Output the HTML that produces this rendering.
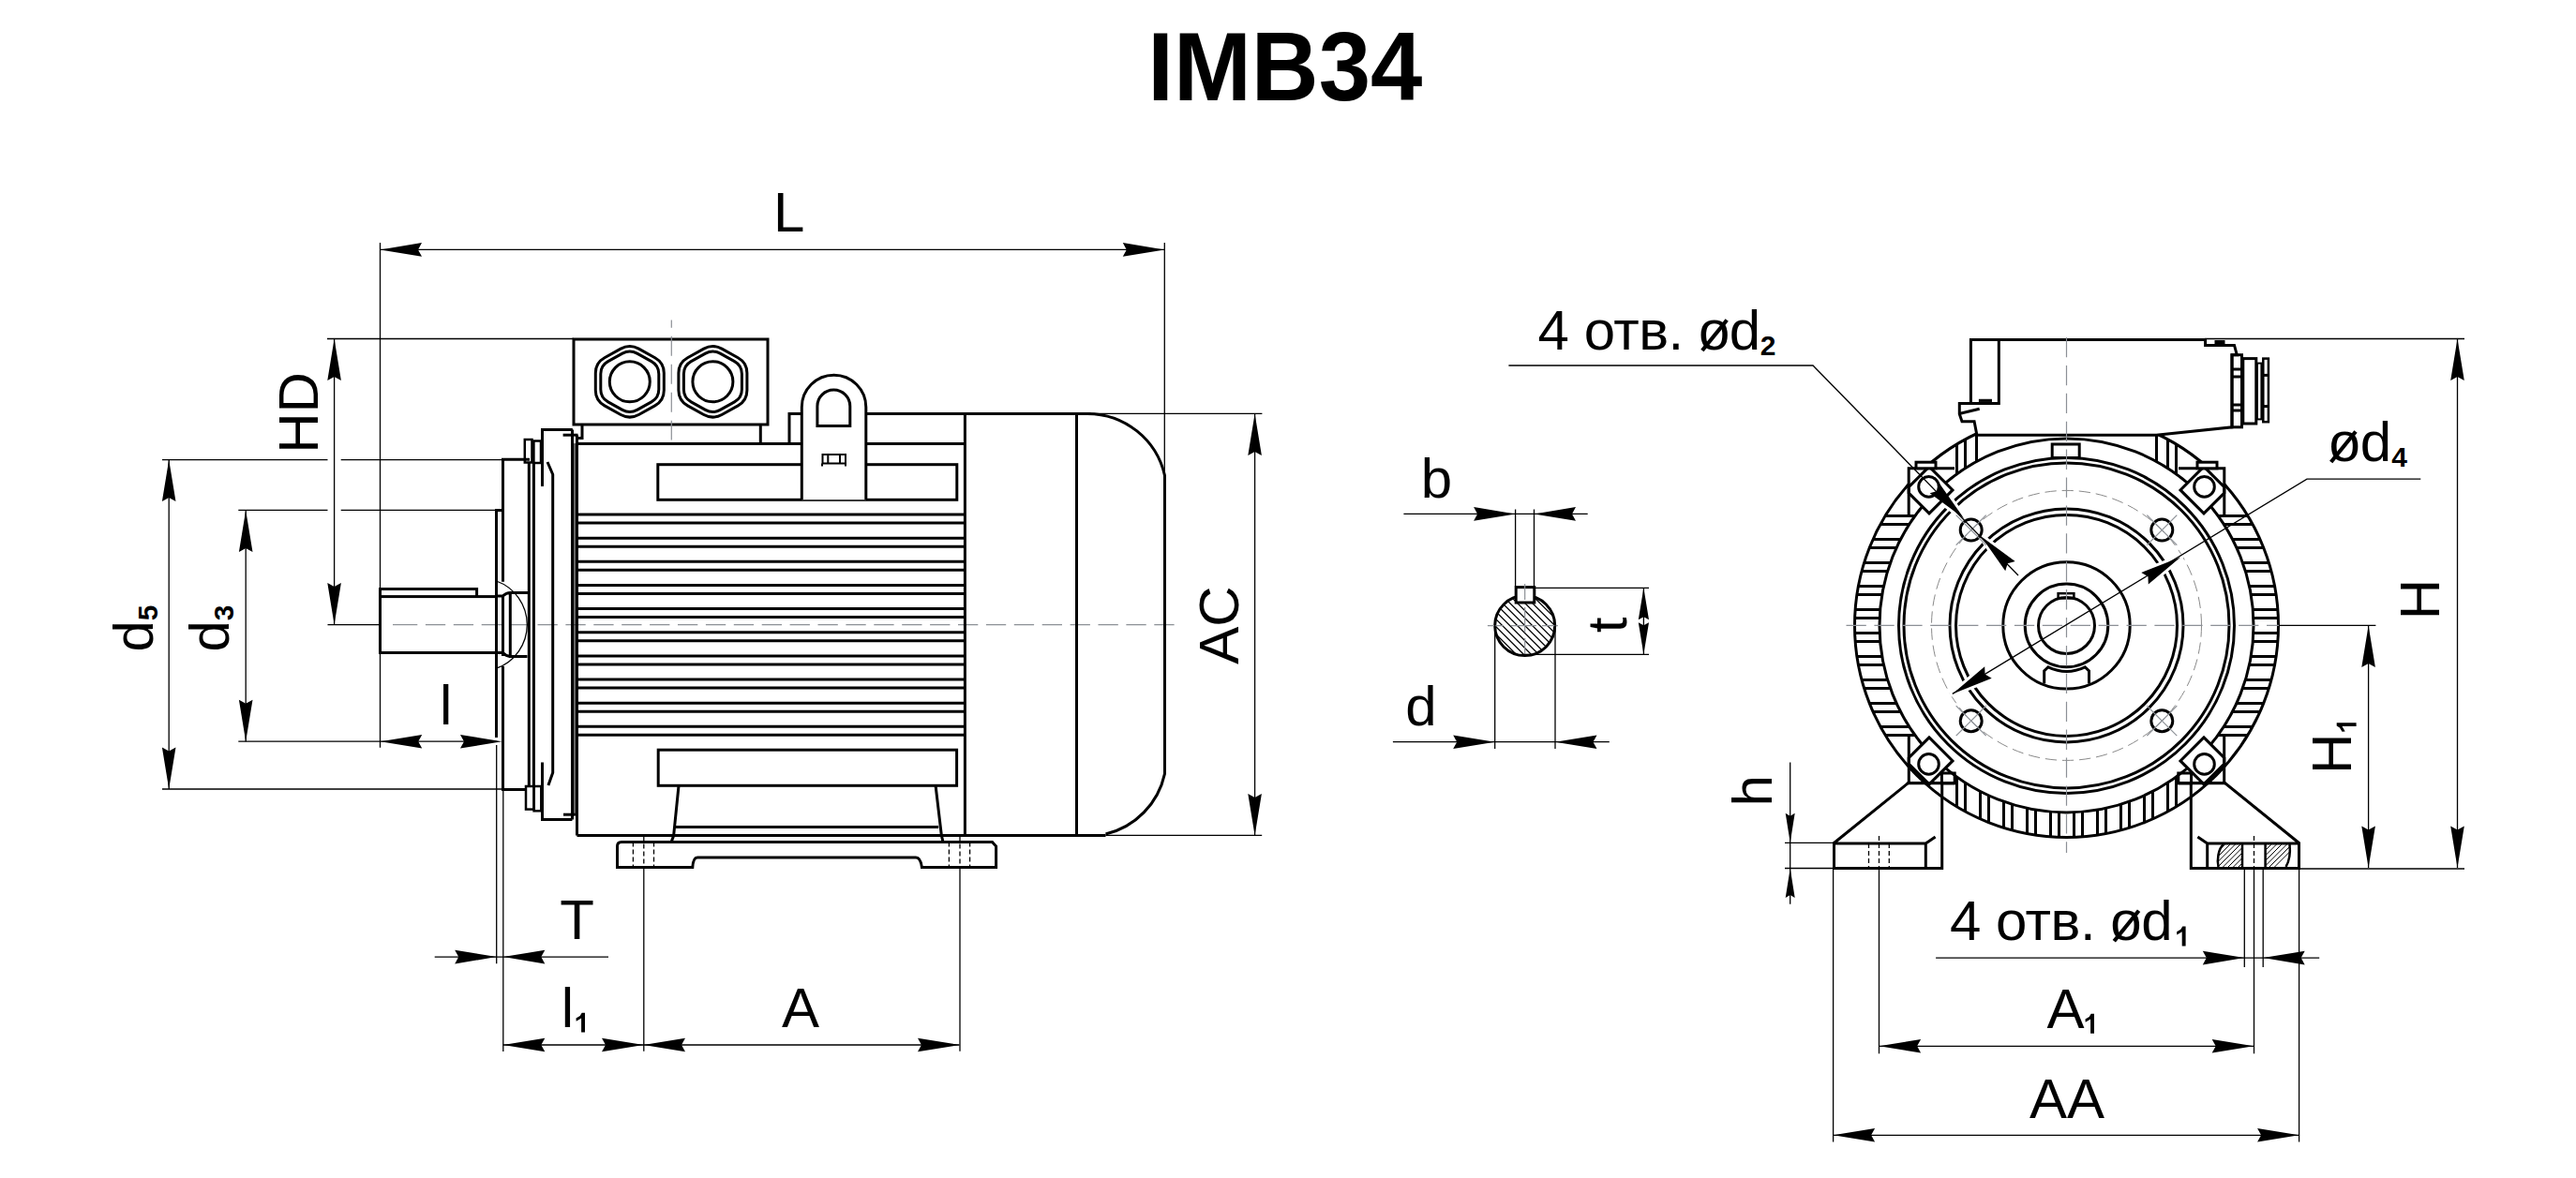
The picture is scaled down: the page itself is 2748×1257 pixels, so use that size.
<!DOCTYPE html>
<html><head><meta charset="utf-8"><style>
html,body{margin:0;padding:0;background:#fff;}
svg{display:block;}
text{font-family:"Liberation Sans",sans-serif;fill:#000;}
</style></head><body>
<svg width="2748" height="1257" viewBox="0 0 2748 1257">
<rect x="0" y="0" width="2748" height="1257" fill="#fff"/>
<text x="1224" y="107" font-size="104" font-weight="bold" transform="translate(1231 0) scale(0.957 1) translate(-1231 0)" >IMB34</text>
<line x1="419" y1="666.6" x2="445.3" y2="666.6" stroke="#8c9096" stroke-width="1.2"/>
<line x1="453.9" y1="666.6" x2="1254.8" y2="666.6" stroke="#8c9096" stroke-width="1.2" stroke-dasharray="21.3 8.6"/>
<line x1="405.5" y1="259" x2="405.5" y2="797.7" stroke="#000" stroke-width="1.3"/>
<line x1="1242.3" y1="259" x2="1242.3" y2="508" stroke="#000" stroke-width="1.3"/>
<line x1="405.5" y1="266.4" x2="1242.3" y2="266.4" stroke="#000" stroke-width="1.3"/>
<polygon points="405.5,266.4 450,259.1 446,266.4 450,273.7" fill="#000"/>
<polygon points="1242.3,266.4 1197.8,273.7 1201.8,266.4 1197.8,259.1" fill="#000"/>
<text x="824.88" y="246.9" font-size="60" text-anchor="start" font-weight="normal">L</text>
<line x1="349" y1="361.5" x2="612" y2="361.5" stroke="#000" stroke-width="1.3"/>
<line x1="356.6" y1="361.5" x2="356.6" y2="666.6" stroke="#000" stroke-width="1.3"/>
<polygon points="356.6,361.5 363.9,406 356.6,402 349.3,406" fill="#000"/>
<polygon points="356.6,666.6 349.3,622.1 356.6,626.1 363.9,622.1" fill="#000"/>
<line x1="349.5" y1="666.6" x2="405.5" y2="666.6" stroke="#000" stroke-width="1.3"/>
<line x1="173" y1="490.6" x2="349.5" y2="490.6" stroke="#000" stroke-width="1.3"/>
<line x1="363.7" y1="490.6" x2="535.6" y2="490.6" stroke="#000" stroke-width="1.3"/>
<line x1="173" y1="842" x2="536.5" y2="842" stroke="#000" stroke-width="1.3"/>
<line x1="180.2" y1="490.6" x2="180.2" y2="842" stroke="#000" stroke-width="1.3"/>
<polygon points="180.2,490.6 187.5,535.1 180.2,531.1 172.9,535.1" fill="#000"/>
<polygon points="180.2,842 172.9,797.5 180.2,801.5 187.5,797.5" fill="#000"/>
<line x1="254.3" y1="544.4" x2="349.5" y2="544.4" stroke="#000" stroke-width="1.3"/>
<line x1="363.7" y1="544.4" x2="528.6" y2="544.4" stroke="#000" stroke-width="1.3"/>
<line x1="254.3" y1="791.2" x2="529.7" y2="791.2" stroke="#000" stroke-width="1.3"/>
<line x1="262.2" y1="544.4" x2="262.2" y2="791.2" stroke="#000" stroke-width="1.3"/>
<polygon points="262.2,544.4 269.5,588.9 262.2,584.9 254.9,588.9" fill="#000"/>
<polygon points="262.2,791.2 254.9,746.7 262.2,750.7 269.5,746.7" fill="#000"/>
<polygon points="405.7,791.2 450.2,783.9 446.2,791.2 450.2,798.5" fill="#000"/>
<polygon points="535.5,791.2 491,798.5 495,791.2 491,783.9" fill="#000"/>
<line x1="529.7" y1="795" x2="529.7" y2="1028.3" stroke="#000" stroke-width="1.3"/>
<line x1="536.8" y1="842" x2="536.8" y2="1122" stroke="#000" stroke-width="1.3"/>
<line x1="463.7" y1="1021.1" x2="649" y2="1021.1" stroke="#000" stroke-width="1.3"/>
<polygon points="529.7,1021.1 485.2,1028.4 489.2,1021.1 485.2,1013.8" fill="#000"/>
<polygon points="536.8,1021.1 581.3,1013.8 577.3,1021.1 581.3,1028.4" fill="#000"/>
<line x1="536.8" y1="1115" x2="1023.5" y2="1115" stroke="#000" stroke-width="1.3"/>
<polygon points="536.8,1115 581.3,1107.7 577.3,1115 581.3,1122.3" fill="#000"/>
<polygon points="686.5,1115 642,1122.3 646,1115 642,1107.7" fill="#000"/>
<polygon points="686.5,1115 731,1107.7 727,1115 731,1122.3" fill="#000"/>
<polygon points="1023.5,1115 979,1122.3 983,1115 979,1107.7" fill="#000"/>
<line x1="686.8" y1="925.4" x2="686.8" y2="1121.7" stroke="#000" stroke-width="1.3"/>
<line x1="1024" y1="925.4" x2="1024" y2="1121.7" stroke="#000" stroke-width="1.3"/>
<line x1="686.8" y1="892.5" x2="686.8" y2="925.4" stroke="#000" stroke-width="1.3" stroke-dasharray="5 3"/>
<line x1="1024" y1="892.5" x2="1024" y2="925.4" stroke="#000" stroke-width="1.3" stroke-dasharray="5 3"/>
<line x1="1163.8" y1="441.4" x2="1346.4" y2="441.4" stroke="#000" stroke-width="1.3"/>
<line x1="1179.5" y1="891.4" x2="1346.2" y2="891.4" stroke="#000" stroke-width="1.3"/>
<line x1="1338.6" y1="441.4" x2="1338.6" y2="891.4" stroke="#000" stroke-width="1.3"/>
<polygon points="1338.6,441.4 1345.9,485.9 1338.6,481.9 1331.3,485.9" fill="#000"/>
<polygon points="1338.6,891.4 1331.3,846.9 1338.6,850.9 1345.9,846.9" fill="#000"/>
<text x="339" y="440.5" font-size="60" text-anchor="middle" font-weight="normal" transform="rotate(-90 339 440.5)">HD</text>
<text x="162.7" y="670.5" font-size="60" text-anchor="middle" font-weight="normal" transform="rotate(-90 162.7 670.5)">d<tspan font-size="30" font-weight="bold" dy="5.5">5</tspan></text>
<text x="243.5" y="670.5" font-size="60" text-anchor="middle" font-weight="normal" transform="rotate(-90 243.5 670.5)">d<tspan font-size="30" font-weight="bold" dy="5.5">3</tspan></text>
<text x="475.7" y="772.7" font-size="60" text-anchor="middle" font-weight="normal">l</text>
<text x="615.7" y="1001.5" font-size="60" text-anchor="middle" font-weight="normal">T</text>
<text x="598.7" y="1096" font-size="60" text-anchor="start" font-weight="normal">l</text>
<polygon points="624,1101.6 624,1080.7 620.7,1080.7 618.7,1083.9 614.5,1086.5 614.7,1089.7 620.1,1086.5 620.1,1101.6" fill="#000"/>
<text x="854" y="1095.9" font-size="60" text-anchor="middle" font-weight="normal">A</text>
<text x="1321.3" y="667.1" font-size="60" text-anchor="middle" font-weight="normal" transform="rotate(-90 1321.3 667.1)">AC</text>
<rect x="612" y="362" width="207" height="91" stroke="#000" stroke-width="3.0" fill="none"/>
<path d="M662.18,372.14 Q671.8,366.8 681.42,372.14 L698.68,381.71 Q708.3,387.05 708.3,398.05 L708.3,416.55 Q708.3,427.55 698.68,432.89 L681.42,442.46 Q671.8,447.8 662.18,442.46 L644.92,432.89 Q635.3,427.55 635.3,416.55 L635.3,398.05 Q635.3,387.05 644.92,381.71 Z" stroke="#000" stroke-width="3.0" fill="none"/>
<path d="M663.94,377.18 Q671.8,372.8 679.66,377.18 L694.94,385.67 Q702.8,390.05 702.8,399.05 L702.8,415.55 Q702.8,424.55 694.94,428.93 L679.66,437.42 Q671.8,441.8 663.94,437.42 L648.66,428.93 Q640.8,424.55 640.8,415.55 L640.8,399.05 Q640.8,390.05 648.66,385.67 Z" stroke="#000" stroke-width="3.0" fill="none"/>
<circle cx="671.8" cy="407.3" r="21.5" stroke="#000" stroke-width="3.0" fill="none"/>
<path d="M750.78,372.14 Q760.4,366.8 770.02,372.14 L787.28,381.71 Q796.9,387.05 796.9,398.05 L796.9,416.55 Q796.9,427.55 787.28,432.89 L770.02,442.46 Q760.4,447.8 750.78,442.46 L733.52,432.89 Q723.9,427.55 723.9,416.55 L723.9,398.05 Q723.9,387.05 733.52,381.71 Z" stroke="#000" stroke-width="3.0" fill="none"/>
<path d="M752.54,377.18 Q760.4,372.8 768.26,377.18 L783.54,385.67 Q791.4,390.05 791.4,399.05 L791.4,415.55 Q791.4,424.55 783.54,428.93 L768.26,437.42 Q760.4,441.8 752.54,437.42 L737.26,428.93 Q729.4,424.55 729.4,415.55 L729.4,399.05 Q729.4,390.05 737.26,385.67 Z" stroke="#000" stroke-width="3.0" fill="none"/>
<circle cx="760.4" cy="407.3" r="21.5" stroke="#000" stroke-width="3.0" fill="none"/>
<line x1="716.3" y1="341.5" x2="716.3" y2="469.5" stroke="#8c9096" stroke-width="1.2" stroke-dasharray="21 9" stroke-dashoffset="12.7"/>
<polyline points="621,453 621,467.5 616.5,467.5" stroke="#000" stroke-width="3.0" fill="none" stroke-linejoin="miter"/>
<line x1="811.3" y1="453" x2="811.3" y2="473.5" stroke="#000" stroke-width="3.0"/>
<line x1="615.8" y1="473.5" x2="1029.4" y2="473.5" stroke="#000" stroke-width="3.0"/>
<polyline points="842,473.5 842,441.4 1163.8,441.4" stroke="#000" stroke-width="3.0" fill="none" stroke-linejoin="miter"/>
<path d="M1160,441.4 A84.6,84.6 0 0 1 1242.5,507.4 V825.6 A84.6,84.6 0 0 1 1179.5,890" stroke="#000" stroke-width="3.0" fill="none"/>
<line x1="1029.4" y1="441.4" x2="1029.4" y2="891.4" stroke="#000" stroke-width="3.0"/>
<line x1="1148.5" y1="441.4" x2="1148.5" y2="891.4" stroke="#000" stroke-width="3.0"/>
<line x1="615.5" y1="891.4" x2="1179.5" y2="891.4" stroke="#000" stroke-width="3.0"/>
<line x1="615.5" y1="464.2" x2="615.5" y2="891.4" stroke="#000" stroke-width="3.0"/>
<rect x="701.8" y="495.7" width="319" height="37.6" stroke="#000" stroke-width="3.0" fill="none"/>
<rect x="702.2" y="800.2" width="318.4" height="38.1" stroke="#000" stroke-width="3.0" fill="none"/>
<line x1="615.5" y1="549.1" x2="1029.4" y2="549.1" stroke="#000" stroke-width="3.0"/>
<line x1="615.5" y1="558.1" x2="1029.4" y2="558.1" stroke="#000" stroke-width="3.0"/>
<line x1="615.5" y1="574.23" x2="1029.4" y2="574.23" stroke="#000" stroke-width="3.0"/>
<line x1="615.5" y1="583.23" x2="1029.4" y2="583.23" stroke="#000" stroke-width="3.0"/>
<line x1="615.5" y1="599.36" x2="1029.4" y2="599.36" stroke="#000" stroke-width="3.0"/>
<line x1="615.5" y1="608.36" x2="1029.4" y2="608.36" stroke="#000" stroke-width="3.0"/>
<line x1="615.5" y1="624.49" x2="1029.4" y2="624.49" stroke="#000" stroke-width="3.0"/>
<line x1="615.5" y1="633.49" x2="1029.4" y2="633.49" stroke="#000" stroke-width="3.0"/>
<line x1="615.5" y1="649.62" x2="1029.4" y2="649.62" stroke="#000" stroke-width="3.0"/>
<line x1="615.5" y1="658.62" x2="1029.4" y2="658.62" stroke="#000" stroke-width="3.0"/>
<line x1="615.5" y1="674.75" x2="1029.4" y2="674.75" stroke="#000" stroke-width="3.0"/>
<line x1="615.5" y1="683.75" x2="1029.4" y2="683.75" stroke="#000" stroke-width="3.0"/>
<line x1="615.5" y1="699.88" x2="1029.4" y2="699.88" stroke="#000" stroke-width="3.0"/>
<line x1="615.5" y1="708.88" x2="1029.4" y2="708.88" stroke="#000" stroke-width="3.0"/>
<line x1="615.5" y1="725.01" x2="1029.4" y2="725.01" stroke="#000" stroke-width="3.0"/>
<line x1="615.5" y1="734.01" x2="1029.4" y2="734.01" stroke="#000" stroke-width="3.0"/>
<line x1="615.5" y1="750.14" x2="1029.4" y2="750.14" stroke="#000" stroke-width="3.0"/>
<line x1="615.5" y1="759.14" x2="1029.4" y2="759.14" stroke="#000" stroke-width="3.0"/>
<line x1="615.5" y1="775.27" x2="1029.4" y2="775.27" stroke="#000" stroke-width="3.0"/>
<line x1="615.5" y1="784.27" x2="1029.4" y2="784.27" stroke="#000" stroke-width="3.0"/>
<path d="M855.3,533.3 V434.5 A34.25,34.25 0 0 1 923.8,434.5 V533.3 Z" stroke="#000" stroke-width="0" fill="#fff"/>
<path d="M855.3,533.3 V434.5 A34.25,34.25 0 0 1 923.8,434.5 V533.3" stroke="#000" stroke-width="3.0" fill="none"/>
<path d="M871.9,454.4 V433.5 A17.45,17.45 0 0 1 906.8,433.5 V454.4 Z" stroke="#000" stroke-width="3.0" fill="none"/>
<path d="M877.5,494.5 V485 H902 V494.5 M876.5,494.5 H902.5 M877,494.5 V497.6 M902,494.5 V497.6 M883.3,485 V494.5 M896,485 V494.5" stroke="#000" stroke-width="2" fill="none"/>
<polyline points="724,838.5 718.6,891.8 716.3,898" stroke="#000" stroke-width="3.0" fill="none" stroke-linejoin="miter"/>
<polyline points="998.1,838.5 1004.3,891 1005.9,898" stroke="#000" stroke-width="3.0" fill="none" stroke-linejoin="miter"/>
<line x1="721" y1="882.5" x2="1001.2" y2="882.5" stroke="#000" stroke-width="3.0"/>
<path d="M663,898.5 H1058.5 L1062.6,903 V925.4 H983.4 Q982,915.1 977,915.1 H744 Q739.5,915.1 738.8,925.4 H658.5 V903 Q658.5,898.5 663,898.5 Z" stroke="#000" stroke-width="3.0" fill="none"/>
<line x1="675.4" y1="898.5" x2="675.4" y2="925.4" stroke="#000" stroke-width="1.3" stroke-dasharray="5 3"/>
<line x1="697.5" y1="898.5" x2="697.5" y2="925.4" stroke="#000" stroke-width="1.3" stroke-dasharray="5 3"/>
<line x1="1012.4" y1="898.5" x2="1012.4" y2="925.4" stroke="#000" stroke-width="1.3" stroke-dasharray="5 3"/>
<line x1="1034.6" y1="898.5" x2="1034.6" y2="925.4" stroke="#000" stroke-width="1.3" stroke-dasharray="5 3"/>
<line x1="610.5" y1="458.5" x2="610.5" y2="874.6" stroke="#000" stroke-width="3.0"/>
<line x1="613" y1="473" x2="613" y2="870" stroke="#000" stroke-width="1.2"/>
<polyline points="578.5,519 578.5,458.5 610.8,458.5" stroke="#000" stroke-width="3.0" fill="none" stroke-linejoin="miter"/>
<line x1="600.6" y1="464.2" x2="616.5" y2="464.2" stroke="#000" stroke-width="3.0"/>
<polyline points="578.5,813.5 578.5,874.6 610.4,874.6" stroke="#000" stroke-width="3.0" fill="none" stroke-linejoin="miter"/>
<line x1="601" y1="869.2" x2="613.8" y2="869.2" stroke="#000" stroke-width="3.0"/>
<polyline points="584,493 589.7,506.2 589.7,824.5 584.9,838.1" stroke="#000" stroke-width="3.0" fill="none" stroke-linejoin="miter"/>
<line x1="569.4" y1="494" x2="569.4" y2="839" stroke="#000" stroke-width="3.0"/>
<line x1="564.3" y1="494" x2="564.3" y2="839" stroke="#000" stroke-width="3.0"/>
<rect x="559.8" y="469" width="7.7" height="24.5" stroke="#000" stroke-width="2.5" fill="none"/>
<rect x="569.4" y="470.5" width="7.6" height="23.5" stroke="#000" stroke-width="2.5" fill="none"/>
<rect x="561" y="839" width="8.6" height="24.6" stroke="#000" stroke-width="2.5" fill="none"/>
<rect x="569.6" y="839" width="7.7" height="26.3" stroke="#000" stroke-width="2.5" fill="none"/>
<polyline points="565,490.3 536.5,490.3 536.5,620.8" stroke="#000" stroke-width="3.0" fill="none" stroke-linejoin="miter"/>
<polyline points="536.5,711 536.5,842.4 560.3,842.4" stroke="#000" stroke-width="3.0" fill="none" stroke-linejoin="miter"/>
<line x1="536.5" y1="635.5" x2="536.5" y2="700" stroke="#000" stroke-width="3.0"/>
<polyline points="536.3,544.4 529.5,544.4 529.5,787" stroke="#000" stroke-width="3.0" fill="none" stroke-linejoin="miter"/>
<rect x="405.5" y="636.6" width="124" height="59.9" stroke="#000" stroke-width="3.0" fill="none"/>
<polyline points="405.5,636.6 405.5,628.4 508.6,628.4 508.6,636.6" stroke="#000" stroke-width="3.0" fill="none" stroke-linejoin="miter"/>
<path d="M529.5,635.9 H536.5 Q540,632.5 544.3,632.5 H563 M544.3,632.5 V700.5 H562.5 M529.5,696.6 H536.5 Q540,700.5 544.3,700.5" stroke="#000" stroke-width="3.0" fill="none"/>
<path d="M529.5,620 A49.5,49.5 0 0 1 529.5,713.2" stroke="#000" stroke-width="1.3" fill="none"/>
<clipPath id="shc"><circle cx="1626.7" cy="667.6" r="32"/></clipPath>
<path d="M1470.7,607.6 L1590.7,727.6 M1478.7,607.6 L1598.7,727.6 M1486.7,607.6 L1606.7,727.6 M1494.7,607.6 L1614.7,727.6 M1502.7,607.6 L1622.7,727.6 M1510.7,607.6 L1630.7,727.6 M1518.7,607.6 L1638.7,727.6 M1526.7,607.6 L1646.7,727.6 M1534.7,607.6 L1654.7,727.6 M1542.7,607.6 L1662.7,727.6 M1550.7,607.6 L1670.7,727.6 M1558.7,607.6 L1678.7,727.6 M1566.7,607.6 L1686.7,727.6 M1574.7,607.6 L1694.7,727.6 M1582.7,607.6 L1702.7,727.6 M1590.7,607.6 L1710.7,727.6 M1598.7,607.6 L1718.7,727.6 M1606.7,607.6 L1726.7,727.6 M1614.7,607.6 L1734.7,727.6 M1622.7,607.6 L1742.7,727.6 M1630.7,607.6 L1750.7,727.6 M1638.7,607.6 L1758.7,727.6 M1646.7,607.6 L1766.7,727.6 M1654.7,607.6 L1774.7,727.6 M1662.7,607.6 L1782.7,727.6" stroke="#000" stroke-width="1.3" clip-path="url(#shc)"/>
<circle cx="1626.7" cy="667.6" r="32" stroke="#000" stroke-width="3.0" fill="none"/>
<rect x="1617.2" y="626.6" width="19.6" height="16.4" stroke="#000" stroke-width="3.0" fill="#fff"/>
<line x1="1586.9" y1="667.6" x2="1665.7" y2="667.6" stroke="#8c9096" stroke-width="1.2" stroke-dasharray="17 8 27 6 17"/>
<line x1="1626.7" y1="622.9" x2="1626.7" y2="703.7" stroke="#8c9096" stroke-width="1.2" stroke-dasharray="17 8 27 6 17"/>
<line x1="1616.6" y1="543.5" x2="1616.6" y2="626.6" stroke="#000" stroke-width="1.3"/>
<line x1="1636.5" y1="543.5" x2="1636.5" y2="626.6" stroke="#000" stroke-width="1.3"/>
<line x1="1497.4" y1="548.4" x2="1693.7" y2="548.4" stroke="#000" stroke-width="1.3"/>
<polygon points="1616.6,548.4 1572.1,555.7 1576.1,548.4 1572.1,541.1" fill="#000"/>
<polygon points="1636.5,548.4 1681,541.1 1677,548.4 1681,555.7" fill="#000"/>
<line x1="1637.3" y1="627.3" x2="1759" y2="627.3" stroke="#000" stroke-width="1.3"/>
<line x1="1626" y1="698.3" x2="1759" y2="698.3" stroke="#000" stroke-width="1.3"/>
<line x1="1753.4" y1="627.3" x2="1753.4" y2="698.3" stroke="#000" stroke-width="1.3"/>
<polygon points="1753.4,627.3 1759,661.3 1753.4,658.3 1747.8,661.3" fill="#000"/>
<polygon points="1753.4,698.3 1747.8,664.3 1753.4,667.3 1759,664.3" fill="#000"/>
<line x1="1594.7" y1="667" x2="1594.7" y2="799" stroke="#000" stroke-width="1.3"/>
<line x1="1659" y1="667" x2="1659" y2="799" stroke="#000" stroke-width="1.3"/>
<line x1="1485.9" y1="791.7" x2="1716.8" y2="791.7" stroke="#000" stroke-width="1.3"/>
<polygon points="1594.7,791.7 1550.2,799 1554.2,791.7 1550.2,784.4" fill="#000"/>
<polygon points="1659,791.7 1703.5,784.4 1699.5,791.7 1703.5,799" fill="#000"/>
<text x="1532.5" y="531.4" font-size="60" text-anchor="middle" font-weight="normal">b</text>
<text x="1516" y="774.4" font-size="60" text-anchor="middle" font-weight="normal">d</text>
<text x="1735" y="667" font-size="60" text-anchor="middle" font-weight="normal" transform="rotate(-90 1735 667)">t</text>
<path d="M1978.64,659.4 H2005.16 M2430.36,659.4 H2403.84 M2196.5,893.26 V866.74 M1978.64,675.4 H2005.16 M2430.36,675.4 H2403.84 M2212.5,893.26 V866.74 M1979.14,650.4 H2005.73 M2429.86,650.4 H2403.27 M2187.5,892.76 V866.17 M1979.14,684.4 H2005.73 M2429.86,684.4 H2403.27 M2221.5,892.76 V866.17 M1980.92,634.4 H2007.75 M2428.08,634.4 H2401.25 M2171.5,890.98 V864.15 M1980.92,700.4 H2007.75 M2428.08,700.4 H2401.25 M2237.5,890.98 V864.15 M1982.44,625.4 H2009.47 M2426.56,625.4 H2399.53 M2162.5,889.46 V862.43 M1982.44,709.4 H2009.47 M2426.56,709.4 H2399.53 M2246.5,889.46 V862.43 M1986.07,609.4 H2013.62 M2422.93,609.4 H2395.38 M2146.5,885.83 V858.28 M1986.07,725.4 H2013.62 M2422.93,725.4 H2395.38 M2262.5,885.83 V858.28 M1988.66,600.4 H2016.59 M2420.34,600.4 H2392.41 M2137.5,883.24 V855.31 M1988.66,734.4 H2016.59 M2420.34,734.4 H2392.41 M2271.5,883.24 V855.31 M1994.29,584.4 H2023.09 M2414.71,584.4 H2385.91 M2121.5,877.61 V848.81 M1994.29,750.4 H2023.09 M2414.71,750.4 H2385.91 M2287.5,877.61 V848.81 M1998.07,575.4 H2027.48 M2410.93,575.4 H2381.52 M2112.5,873.83 V844.42 M1998.07,759.4 H2027.48 M2410.93,759.4 H2381.52 M2296.5,873.83 V844.42 M2005.98,559.4 H2036.76 M2403.02,559.4 H2372.24 M2096.5,865.92 V835.14 M2096.5,468.88 V499.66 M2005.98,775.4 H2036.76 M2403.02,775.4 H2372.24 M2312.5,865.92 V835.14 M2312.5,468.88 V499.66 M2011.14,550.4 H2042.91 M2397.86,550.4 H2366.09 M2087.5,860.76 V828.99 M2087.5,474.04 V505.81 M2011.14,784.4 H2042.91 M2397.86,784.4 H2366.09 M2321.5,860.76 V828.99 M2321.5,474.04 V505.81" stroke="#000" stroke-width="3.0"/>
<circle cx="2204.5" cy="667.4" r="226" stroke="#000" stroke-width="3.0" fill="none"/>
<circle cx="2204.5" cy="667.4" r="199.5" stroke="#000" stroke-width="3.0" fill="none"/>
<line x1="2108.5" y1="464.2" x2="2108.5" y2="492.52" stroke="#000" stroke-width="3.0"/>
<line x1="2300.5" y1="464.2" x2="2300.5" y2="492.52" stroke="#000" stroke-width="3.0"/>
<circle cx="2204.5" cy="667.4" r="179" stroke="#000" stroke-width="3.0" fill="none"/>
<circle cx="2204.5" cy="667.4" r="173.5" stroke="#000" stroke-width="3.0" fill="none"/>
<circle cx="2204.5" cy="667.4" r="144" stroke="#8a8a8a" stroke-width="1.0" fill="none" stroke-dasharray="12.3 5.9"/>
<circle cx="2204.5" cy="667.4" r="124.5" stroke="#000" stroke-width="3.0" fill="none"/>
<circle cx="2204.5" cy="667.4" r="118" stroke="#000" stroke-width="3.0" fill="none"/>
<circle cx="2204.5" cy="667.4" r="67.7" stroke="#000" stroke-width="3.0" fill="none"/>
<circle cx="2204.5" cy="667.4" r="44.3" stroke="#000" stroke-width="3.0" fill="none"/>
<circle cx="2204.5" cy="667.4" r="30" stroke="#000" stroke-width="3.0" fill="none"/>
<polygon points="2095,553 2058.63,526.33 2066.65,524.08 2069.06,516.11" fill="#fff" stroke="#fff" stroke-width="6" stroke-linejoin="round"/>
<polygon points="2113.3,572.3 2149.67,598.97 2141.65,601.22 2139.24,609.19" fill="#fff" stroke="#fff" stroke-width="6" stroke-linejoin="round"/>
<polygon points="2326.2,594.4 2291.79,623.55 2291.47,615.23 2284.28,611.03" fill="#fff" stroke="#fff" stroke-width="6" stroke-linejoin="round"/>
<polygon points="2082.8,740.4 2117.21,711.25 2117.53,719.57 2124.72,723.77" fill="#fff" stroke="#fff" stroke-width="6" stroke-linejoin="round"/>
<rect x="2195.6" y="633.2" width="16.8" height="5.2" stroke="#000" stroke-width="2.5" fill="none"/>
<path d="M2180.7,729.5 V716 L2185,711.8 A46,46 0 0 0 2224.2,711.8 L2228.5,716 V729.5" stroke="#000" stroke-width="3.0" fill="none"/>
<rect x="2189.2" y="474" width="29" height="14.5" stroke="#000" stroke-width="3.0" fill="none"/>
<circle cx="2102.7" cy="565.6" r="11.5" stroke="#000" stroke-width="3.0" fill="none"/>
<line x1="2086.7" y1="549.6" x2="2118.7" y2="581.6" stroke="#8c9096" stroke-width="1.2"/>
<line x1="2086.7" y1="581.6" x2="2118.7" y2="549.6" stroke="#8c9096" stroke-width="1.2"/>
<circle cx="2102.7" cy="769.2" r="11.5" stroke="#000" stroke-width="3.0" fill="none"/>
<line x1="2086.7" y1="753.2" x2="2118.7" y2="785.2" stroke="#8c9096" stroke-width="1.2"/>
<line x1="2086.7" y1="785.2" x2="2118.7" y2="753.2" stroke="#8c9096" stroke-width="1.2"/>
<circle cx="2306.3" cy="565.6" r="11.5" stroke="#000" stroke-width="3.0" fill="none"/>
<line x1="2290.3" y1="549.6" x2="2322.3" y2="581.6" stroke="#8c9096" stroke-width="1.2"/>
<line x1="2290.3" y1="581.6" x2="2322.3" y2="549.6" stroke="#8c9096" stroke-width="1.2"/>
<circle cx="2306.3" cy="769.2" r="11.5" stroke="#000" stroke-width="3.0" fill="none"/>
<line x1="2290.3" y1="753.2" x2="2322.3" y2="785.2" stroke="#8c9096" stroke-width="1.2"/>
<line x1="2290.3" y1="785.2" x2="2322.3" y2="753.2" stroke="#8c9096" stroke-width="1.2"/>
<polygon points="2058,499.8 2036.2,499.8 2036.2,519.7" fill="#fff"/>
<polygon points="2058,497.9 2036.2,519.7 2036.2,526.1 2058,547.9 2083,522.9" stroke="#000" stroke-width="3.0" fill="#fff"/>
<circle cx="2057.5" cy="519.4" r="10.8" stroke="#000" stroke-width="3.0" fill="none"/>
<polygon points="2058,786.9 2036.2,808.7 2036.2,815.1 2058,836.9 2083,811.9" stroke="#000" stroke-width="3.0" fill="#fff"/>
<circle cx="2057.5" cy="815.4" r="10.8" stroke="#000" stroke-width="3.0" fill="none"/>
<polygon points="2351,499.8 2372.8,499.8 2372.8,519.7" fill="#fff"/>
<polygon points="2351,497.9 2372.8,519.7 2372.8,526.1 2351,547.9 2326,522.9" stroke="#000" stroke-width="3.0" fill="#fff"/>
<circle cx="2351.5" cy="519.4" r="10.8" stroke="#000" stroke-width="3.0" fill="none"/>
<polygon points="2351,786.9 2372.8,808.7 2372.8,815.1 2351,836.9 2326,811.9" stroke="#000" stroke-width="3.0" fill="#fff"/>
<circle cx="2351.5" cy="815.4" r="10.8" stroke="#000" stroke-width="3.0" fill="none"/>
<polyline points="2036.2,549.8 2036.2,499.8 2085,499.8" stroke="#000" stroke-width="3.0" fill="none" stroke-linejoin="miter"/>
<rect x="2044" y="493.2" width="21" height="6.6" stroke="#000" stroke-width="3.0" fill="#fff"/>
<rect x="2071.4" y="825" width="13.8" height="10.8" stroke="#000" stroke-width="3.0" fill="none"/>
<polyline points="2036.3,785.4 2036.3,835.8 2085.2,835.8" stroke="#000" stroke-width="3.0" fill="none" stroke-linejoin="miter"/>
<polyline points="2372.8,549.8 2372.8,499.8 2324,499.8" stroke="#000" stroke-width="3.0" fill="none" stroke-linejoin="miter"/>
<rect x="2344" y="493.2" width="21" height="6.6" stroke="#000" stroke-width="3.0" fill="#fff"/>
<rect x="2323.8" y="825" width="13.8" height="10.8" stroke="#000" stroke-width="3.0" fill="none"/>
<polyline points="2372.7,785.4 2372.7,835.8 2323.8,835.8" stroke="#000" stroke-width="3.0" fill="none" stroke-linejoin="miter"/>
<path d="M2102.4,362.4 H2352.6 V368.4 H2383.5 L2386.3,378.7 H2381 V455.8 L2300.4,464.2 H2108.9 L2106.1,449.8 H2093 L2090.3,441.8 V430.6 H2102.4 Z" stroke="#000" stroke-width="3.0" fill="#fff"/>
<polyline points="2132.3,362.4 2132.3,430.6 2102.4,430.6" stroke="#000" stroke-width="3.0" fill="none" stroke-linejoin="miter"/>
<rect x="2111.4" y="426.3" width="13" height="2.4" stroke="#000" stroke-width="1" fill="#000"/>
<line x1="2091" y1="441.3" x2="2111.7" y2="436.2" stroke="#000" stroke-width="3.0"/>
<rect x="2363" y="363.5" width="10" height="4" stroke="#000" stroke-width="1" fill="#000"/>
<rect x="2381" y="378.7" width="10.5" height="77.1" stroke="#000" stroke-width="3.0" fill="none"/>
<line x1="2381" y1="394" x2="2391.5" y2="394" stroke="#000" stroke-width="3.0"/>
<line x1="2381" y1="402" x2="2391.5" y2="402" stroke="#000" stroke-width="3.0"/>
<line x1="2381" y1="432" x2="2391.5" y2="432" stroke="#000" stroke-width="3.0"/>
<line x1="2381" y1="438" x2="2391.5" y2="438" stroke="#000" stroke-width="3.0"/>
<line x1="2414.3" y1="400.4" x2="2419.9" y2="400.4" stroke="#000" stroke-width="3.0"/>
<line x1="2414.3" y1="433.6" x2="2419.9" y2="433.6" stroke="#000" stroke-width="3.0"/>
<rect x="2392.8" y="382.6" width="14" height="69.4" stroke="#000" stroke-width="3.0" fill="none"/>
<rect x="2408" y="387.6" width="4.4" height="59.8" stroke="#000" stroke-width="2" fill="none"/>
<rect x="2414.3" y="382.6" width="5.6" height="67.6" stroke="#000" stroke-width="2.5" fill="none"/>
<path d="M1956.5,899.5 L2035.5,835.6 H2085.2 M2071.7,835.6 V926.4 H1956.5 V899.9 H2054.3 V926.4 M2054.3,899.9 L2064.6,893.1" stroke="#000" stroke-width="3.0" fill="none"/>
<line x1="2004.5" y1="926.4" x2="2004.5" y2="1124.3" stroke="#000" stroke-width="1.3"/>
<line x1="2004.5" y1="892" x2="2004.5" y2="926.4" stroke="#000" stroke-width="1.3" stroke-dasharray="5 3"/>
<path d="M2452.5,899.5 L2373.5,835.6 H2323.8 M2337.3,835.6 V926.4 H2452.5 V899.9 H2354.7 V926.4 M2354.7,899.9 L2344.4,893.1" stroke="#000" stroke-width="3.0" fill="none"/>
<line x1="2404.5" y1="926.4" x2="2404.5" y2="1124.3" stroke="#000" stroke-width="1.3"/>
<line x1="2404.5" y1="892" x2="2404.5" y2="926.4" stroke="#000" stroke-width="1.3" stroke-dasharray="5 3"/>
<line x1="1993.5" y1="900" x2="1993.5" y2="926" stroke="#000" stroke-width="1.3" stroke-dasharray="5 3"/>
<line x1="2015.3" y1="900" x2="2015.3" y2="926" stroke="#000" stroke-width="1.3" stroke-dasharray="5 3"/>
<clipPath id="fh"><path d="M2372,901 C2366,906 2365,918 2366.5,925 H2391.4 V901 Z M2417.2,901 V925 H2438.5 C2442,919 2443.5,910 2442.5,901 Z"/></clipPath>
<path d="M2295,930 L2327,898 M2300.5,930 L2332.5,898 M2306,930 L2338,898 M2311.5,930 L2343.5,898 M2317,930 L2349,898 M2322.5,930 L2354.5,898 M2328,930 L2360,898 M2333.5,930 L2365.5,898 M2339,930 L2371,898 M2344.5,930 L2376.5,898 M2350,930 L2382,898 M2355.5,930 L2387.5,898 M2361,930 L2393,898 M2366.5,930 L2398.5,898 M2372,930 L2404,898 M2377.5,930 L2409.5,898 M2383,930 L2415,898 M2388.5,930 L2420.5,898 M2394,930 L2426,898 M2399.5,930 L2431.5,898 M2405,930 L2437,898 M2410.5,930 L2442.5,898 M2416,930 L2448,898 M2421.5,930 L2453.5,898" stroke="#000" stroke-width="1" clip-path="url(#fh)"/>
<path d="M2372,901 C2366,906 2365,918 2366.5,925 M2392,901 V925 M2416.6,901 V925 M2442.5,901 C2443.5,910 2442,919 2438.5,925" stroke="#000" stroke-width="2.5" fill="none"/>
<line x1="2204.5" y1="360" x2="2204.5" y2="910" stroke="#8c9096" stroke-width="1.2" stroke-dasharray="21.3 8.6"/>
<line x1="1969.5" y1="667.4" x2="2431" y2="667.4" stroke="#8c9096" stroke-width="1.2" stroke-dasharray="21.3 8.6"/>
<polyline points="1609.4,390 1934,390 2153,614" stroke="#000" stroke-width="1.3" fill="none" stroke-linejoin="miter"/>
<polygon points="2095,553 2058.63,526.33 2066.65,524.08 2069.06,516.11" fill="#000"/>
<polygon points="2113.3,572.3 2149.67,598.97 2141.65,601.22 2139.24,609.19" fill="#000"/>
<text x="1640.6" y="373" font-size="60" text-anchor="start" font-weight="normal" letter-spacing="-0.5">4 отв. od<tspan font-size="30" font-weight="bold" dy="5.5">2</tspan></text>
<line x1="1815.9" y1="374" x2="1842.2" y2="341.5" stroke="#000" stroke-width="4.2"/>
<polyline points="2082.8,740.4 2461,511.2 2582.3,511.2" stroke="#000" stroke-width="1.3" fill="none" stroke-linejoin="miter"/>
<polygon points="2326.2,594.4 2291.79,623.55 2291.47,615.23 2284.28,611.03" fill="#000"/>
<polygon points="2082.8,740.4 2117.21,711.25 2117.53,719.57 2124.72,723.77" fill="#000"/>
<text x="2484.5" y="492" font-size="60" text-anchor="start" font-weight="normal">od<tspan font-size="30" font-weight="bold" dy="5.5">4</tspan></text>
<line x1="2486.7" y1="493" x2="2513" y2="460.5" stroke="#000" stroke-width="4.2"/>
<line x1="2352" y1="361.5" x2="2629" y2="361.5" stroke="#000" stroke-width="1.3"/>
<line x1="2452" y1="927" x2="2629" y2="927" stroke="#000" stroke-width="1.3"/>
<line x1="2621.5" y1="361.5" x2="2621.5" y2="926" stroke="#000" stroke-width="1.3"/>
<polygon points="2621.5,361.5 2628.8,406 2621.5,402 2614.2,406" fill="#000"/>
<polygon points="2621.5,926 2614.2,881.5 2621.5,885.5 2628.8,881.5" fill="#000"/>
<text x="2601.6" y="639.5" font-size="60" text-anchor="middle" font-weight="normal" transform="rotate(-90 2601.6 639.5)">H</text>
<line x1="2431" y1="667.4" x2="2534.4" y2="667.4" stroke="#000" stroke-width="1.3"/>
<line x1="2526.6" y1="667.4" x2="2526.6" y2="926" stroke="#000" stroke-width="1.3"/>
<polygon points="2526.6,667.4 2533.9,711.9 2526.6,707.9 2519.3,711.9" fill="#000"/>
<polygon points="2526.6,926 2519.3,881.5 2526.6,885.5 2533.9,881.5" fill="#000"/>
<text x="2508.2" y="826.1" font-size="60" text-anchor="start" font-weight="normal" transform="rotate(-90 2508.2 826.1)">H</text>
<polygon points="2513.6,771.2 2492.7,771.2 2492.7,774.5 2495.9,776.5 2498.5,780.7 2501.7,780.5 2498.5,775.1 2513.6,775.1" fill="#000"/>
<line x1="1904" y1="899.3" x2="1956" y2="899.3" stroke="#000" stroke-width="1.3"/>
<line x1="1904" y1="926.5" x2="1956" y2="926.5" stroke="#000" stroke-width="1.3"/>
<line x1="1909.7" y1="813.6" x2="1909.7" y2="964.7" stroke="#000" stroke-width="1.3"/>
<polygon points="1909.7,899.3 1904.7,867.8 1909.7,870.8 1914.7,867.8" fill="#000"/>
<polygon points="1909.7,926.5 1914.7,958 1909.7,955 1904.7,958" fill="#000"/>
<text x="1890" y="843.7" font-size="60" text-anchor="middle" font-weight="normal" transform="rotate(-90 1890 843.7)">h</text>
<line x1="2394.3" y1="926" x2="2394.3" y2="1032" stroke="#000" stroke-width="1.3"/>
<line x1="2414.2" y1="926" x2="2414.2" y2="1032" stroke="#000" stroke-width="1.3"/>
<line x1="2065.1" y1="1022.1" x2="2474.2" y2="1022.1" stroke="#000" stroke-width="1.3"/>
<polygon points="2394.3,1022.1 2349.8,1029.4 2353.8,1022.1 2349.8,1014.8" fill="#000"/>
<polygon points="2414.2,1022.1 2458.7,1014.8 2454.7,1022.1 2458.7,1029.4" fill="#000"/>
<text x="2080" y="1003.2" font-size="60" text-anchor="start" font-weight="normal" letter-spacing="-0.5">4 отв. od</text>
<polygon points="2331.6,1009.4 2331.6,988.5 2328.3,988.5 2326.3,991.7 2322.1,994.3 2322.3,997.5 2327.7,994.3 2327.7,1009.4" fill="#000"/>
<line x1="2255.3" y1="1004.2" x2="2281.6" y2="971.7" stroke="#000" stroke-width="4.2"/>
<line x1="2004.6" y1="1116.3" x2="2404.2" y2="1116.3" stroke="#000" stroke-width="1.3"/>
<polygon points="2004.6,1116.3 2049.1,1109 2045.1,1116.3 2049.1,1123.6" fill="#000"/>
<polygon points="2404.2,1116.3 2359.7,1123.6 2363.7,1116.3 2359.7,1109" fill="#000"/>
<text x="2183.4" y="1097.4" font-size="60" text-anchor="start" font-weight="normal">A</text>
<polygon points="2234,1102.7 2234,1081.8 2230.7,1081.8 2228.7,1085 2224.5,1087.6 2224.7,1090.8 2230.1,1087.6 2230.1,1102.7" fill="#000"/>
<line x1="1955.6" y1="926" x2="1955.6" y2="1218.5" stroke="#000" stroke-width="1.3"/>
<line x1="2452.6" y1="926" x2="2452.6" y2="1218.5" stroke="#000" stroke-width="1.3"/>
<line x1="1955.6" y1="1211.3" x2="2452.6" y2="1211.3" stroke="#000" stroke-width="1.3"/>
<polygon points="1955.6,1211.3 2000.1,1204 1996.1,1211.3 2000.1,1218.6" fill="#000"/>
<polygon points="2452.6,1211.3 2408.1,1218.6 2412.1,1211.3 2408.1,1204" fill="#000"/>
<text x="2205" y="1193" font-size="60" text-anchor="middle" font-weight="normal">AA</text>
</svg></body></html>
